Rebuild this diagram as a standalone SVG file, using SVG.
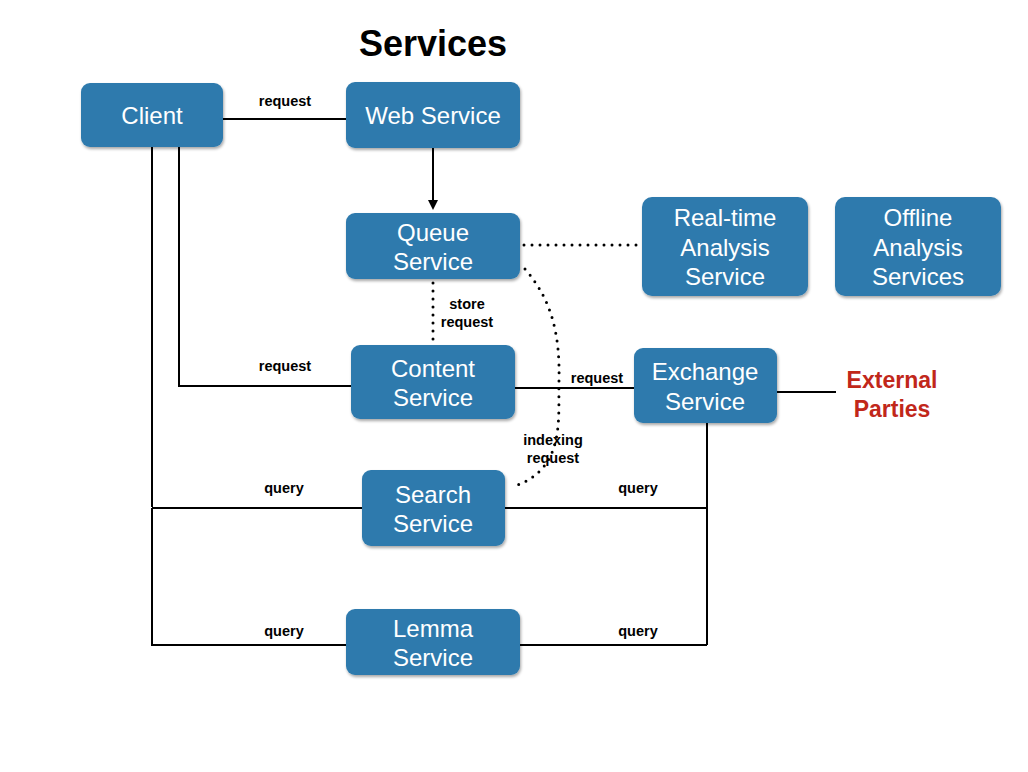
<svg xmlns="http://www.w3.org/2000/svg" width="1028" height="772" viewBox="0 0 1028 772">
<defs>
<filter id="sh" x="-10%" y="-10%" width="125%" height="130%">
<feGaussianBlur in="SourceAlpha" stdDeviation="1.5"/>
<feOffset dx="1" dy="2" result="b"/>
<feComponentTransfer><feFuncA type="linear" slope="0.35"/></feComponentTransfer>
<feMerge><feMergeNode/><feMergeNode in="SourceGraphic"/></feMerge>
</filter>
<marker id="arr" markerWidth="10" markerHeight="10" refX="5" refY="5" orient="auto" markerUnits="userSpaceOnUse">
<path d="M0,0 L10,5 L0,10 z" fill="#000"/>
</marker>
</defs>
<style>
.node rect{fill:#2f7aad;filter:url(#sh)}
.node text{fill:#fff;font-family:"Liberation Sans",Arial,sans-serif;font-size:24px;text-anchor:middle}
.ln{stroke:#000;stroke-width:2;fill:none}
.dot{stroke:#000;stroke-width:3;fill:none;stroke-dasharray:0 8;stroke-linecap:round}
.lbl{font-family:"Liberation Sans",Arial,sans-serif;font-size:14.5px;font-weight:bold;fill:#000;text-anchor:middle}
.ext{font-family:"Liberation Sans",Arial,sans-serif;font-size:23px;font-weight:bold;text-anchor:middle;fill:#c1271a}
</style>
<rect width="1028" height="772" fill="#fff"/>
<text x="433" y="56" font-family="Liberation Sans,Arial,sans-serif" font-size="36" font-weight="bold" text-anchor="middle" fill="#000">Services</text>

<g id="connectors">
<path class="ln" d="M223,119 H346"/>
<path class="ln" d="M433,148 V205" marker-end="url(#arr)"/>
<path class="ln" d="M179,147 V386 H351"/>
<path class="ln" d="M152,147 V507"/>
<path class="ln" d="M152,508 H707"/>
<path class="ln" d="M152,508 V645 H707"/>
<path class="ln" d="M515,388 H634"/>
<path class="ln" d="M707,423 V645"/>
<path class="ln" d="M777,392 H836"/>
<path class="dot" d="M524,245 H640"/>
<path class="dot" d="M433,283 V343"/>
<path class="dot" d="M525,269 C552,300 560,335 559,380 C558,420 566,470 512,487"/>
<text class="lbl" x="285" y="106">request</text>
<text class="lbl" x="467" y="309">store</text>
<text class="lbl" x="467" y="327">request</text>
<text class="lbl" x="285" y="371">request</text>
<text class="lbl" x="597" y="383">request</text>
<text class="lbl" x="553" y="445">indexing</text>
<text class="lbl" x="553" y="463">request</text>
<text class="lbl" x="284" y="493">query</text>
<text class="lbl" x="638" y="493">query</text>
<text class="lbl" x="284" y="636">query</text>
<text class="lbl" x="638" y="636">query</text>
</g>

<g id="client" class="node"><rect x="81" y="83" width="142" height="64" rx="9"/><text x="152" y="124">Client</text></g>
<g id="web" class="node"><rect x="346" y="82" width="174" height="66" rx="9"/><text x="433" y="124">Web Service</text></g>
<g id="queue" class="node"><rect x="346" y="213" width="174" height="66" rx="9"/><text x="433" y="241">Queue</text><text x="433" y="270">Service</text></g>
<g id="realtime" class="node"><rect x="642" y="197" width="166" height="99" rx="10"/><text x="725" y="226">Real-time</text><text x="725" y="256">Analysis</text><text x="725" y="285">Service</text></g>
<g id="offline" class="node"><rect x="835" y="197" width="166" height="99" rx="10"/><text x="918" y="226">Offline</text><text x="918" y="256">Analysis</text><text x="918" y="285">Services</text></g>
<g id="content" class="node"><rect x="351" y="345" width="164" height="74" rx="9"/><text x="433" y="377">Content</text><text x="433" y="406">Service</text></g>
<g id="exchange" class="node"><rect x="634" y="348" width="143" height="75" rx="9"/><text x="705" y="380">Exchange</text><text x="705" y="410">Service</text></g>
<g id="search" class="node"><rect x="362" y="470" width="143" height="76" rx="9"/><text x="433" y="503">Search</text><text x="433" y="532">Service</text></g>
<g id="lemma" class="node"><rect x="346" y="609" width="174" height="66" rx="9"/><text x="433" y="637">Lemma</text><text x="433" y="666">Service</text></g>
<g id="external"><text class="ext" x="892" y="388">External</text><text class="ext" x="892" y="417">Parties</text></g>
</svg>
